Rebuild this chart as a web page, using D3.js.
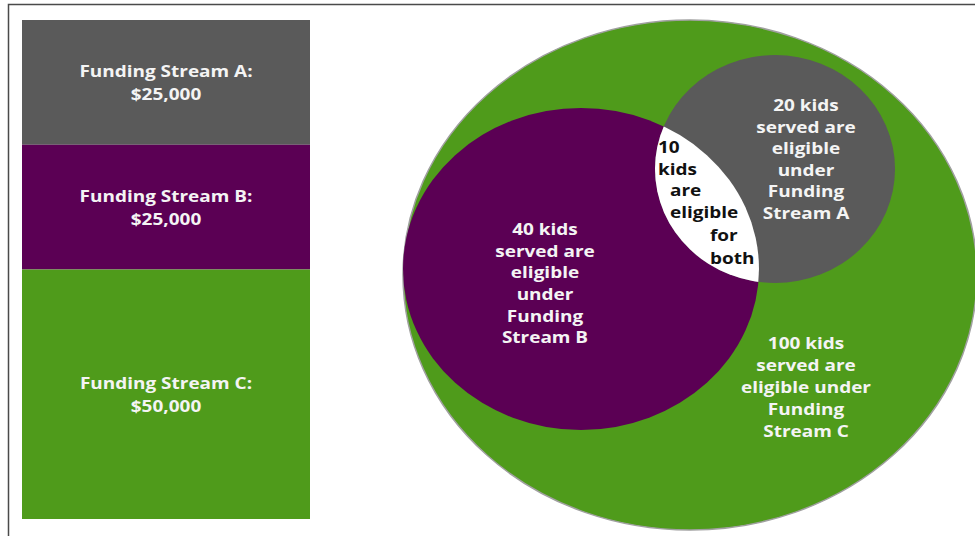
<!DOCTYPE html>
<html>
<head>
<meta charset="utf-8">
<script src="https://cdn.jsdelivr.net/npm/d3@7"></script>
<style>
  body { margin: 0; background: #fff; }
  text { font-family: "Open Sans", sans-serif; font-weight: 700; }
</style>
</head>
<body>
<div id="chart"></div>
<script>
// funding streams (stacked bar)
const streams = ["A", "B", "C"];
const amounts = [25000, 25000, 50000];
const amountLabels = ["$25,000", "$25,000", "$50,000"];

// kids eligible (venn)
const groups = ["C", "B", "A", "AB"];
const kids = [100, 40, 20, 10];
const groupLines = [
  ["100 kids", "served are", "eligible under", "Funding", "Stream C"],
  ["40 kids", "served are", "eligible", "under", "Funding", "Stream B"],
  ["20 kids", "served are", "eligible", "under", "Funding", "Stream A"],
  ["10", "kids", "are", "eligible", "for", "both"]
];

const width = 975, height = 536;
const colors = { A: "#5a5a5a", B: "#5b0054", C: "#4f9b1b", AB: "#ffffff" };
const stretch = 1.15; // text in the original is a bit wide

const svg = d3.select("#chart").append("svg")
  .attr("width", width)
  .attr("height", height);

// frame
svg.append("path")
  .attr("d", "M8.5,540 V4.5 H980")
  .attr("fill", "none")
  .attr("stroke", "#4a4a4a")
  .attr("stroke-width", 1.5);

// helper: one line of stretched text
function line(g, txt, x, y, anchor, fill) {
  g.append("text")
    .attr("transform", `translate(${x},${y}) scale(${stretch},1)`)
    .attr("text-anchor", anchor)
    .attr("fill", fill)
    .style("font-size", "16.5px")
    .text(txt);
}

// ---- stacked bar ----
const y = d3.scaleLinear().domain([0, d3.sum(amounts)]).range([20, 519]);
const x = d3.scaleBand().domain(["total"]).range([22, 310]);

let cum = 0;
const barData = streams.map((s, i) => {
  const d = { key: s, y0: cum, y1: cum + amounts[i], label: amountLabels[i] };
  cum += amounts[i];
  return d;
});

const bar = svg.append("g");
bar.selectAll("rect")
  .data(barData)
  .enter().append("rect")
    .attr("x", x("total"))
    .attr("width", x.bandwidth())
    .attr("y", d => y(d.y0))
    .attr("height", d => y(d.y1) - y(d.y0))
    .attr("fill", d => colors[d.key]);

const barMid = x("total") + x.bandwidth() / 2;
barData.forEach(d => {
  const mid = (y(d.y0) + y(d.y1)) / 2;
  line(bar, "Funding Stream " + d.key + ":", barMid, mid - 5, "middle", "#f4f4f4");
  line(bar, d.label, barMid, mid + 17.5, "middle", "#f4f4f4");
});

// ---- venn ----
// layout in unit space, mapped through scales
const vx = d3.scaleLinear().domain([0, 1]).range([403, 977]);
const vy = d3.scaleLinear().domain([0, 1]).range([20, 530]);
const shapes = {
  C: { cx: 0.5, cy: 0.5, rx: 0.5, ry: 0.5 },
  B: { cx: 0.3101, cy: 0.4882, rx: 0.3101, ry: 0.3157 },
  A: { cx: 0.6481, cy: 0.2922, rx: 0.2091, ry: 0.2235 }
};
const ell = s => ({
  cx: vx(s.cx), cy: vy(s.cy),
  rx: vx(s.rx) - vx(0), ry: vy(s.ry) - vy(0)
});

const venn = svg.append("g");

svg.append("defs").append("clipPath")
  .attr("id", "clipB")
  .append("ellipse")
    .datum(ell(shapes.B))
    .attr("cx", d => d.cx).attr("cy", d => d.cy)
    .attr("rx", d => d.rx).attr("ry", d => d.ry);

const ellData = ["C", "B", "A"].map(k => Object.assign({ key: k }, ell(shapes[k])));
venn.selectAll("ellipse.set")
  .data(ellData)
  .enter().append("ellipse")
    .attr("class", "set")
    .attr("cx", d => d.cx).attr("cy", d => d.cy)
    .attr("rx", d => d.rx).attr("ry", d => d.ry)
    .attr("fill", d => colors[d.key])
    .attr("stroke", d => d.key === "C" ? "#a0a0a0" : "none")
    .attr("stroke-width", 1.5);

// intersection A ∩ B
const eA = ell(shapes.A);
venn.append("ellipse")
  .attr("cx", eA.cx).attr("cy", eA.cy)
  .attr("rx", eA.rx).attr("ry", eA.ry)
  .attr("fill", colors.AB)
  .attr("clip-path", "url(#clipB)");

// labels
const labelPos = {
  C: { x: 806, ys: [349, 371, 393, 415, 437], anchor: "middle" },
  B: { x: 545, ys: [235, 257, 278, 300, 322, 343], anchor: "middle" },
  A: { x: 806, ys: [111, 133, 154, 176, 197, 219], anchor: "middle" },
  AB: { xs: [658, 658, 670, 670, 710, 710], ys: [153, 175, 196, 218, 241, 264], anchor: "start" }
};

groups.forEach((g, gi) => {
  const p = labelPos[g];
  const fill = g === "AB" ? "#111" : "#f4f4f4";
  groupLines[gi].forEach((t, i) => {
    line(venn, t, p.xs ? p.xs[i] : p.x, p.ys[i], p.anchor, fill);
  });
});
</script>
</body>
</html>
